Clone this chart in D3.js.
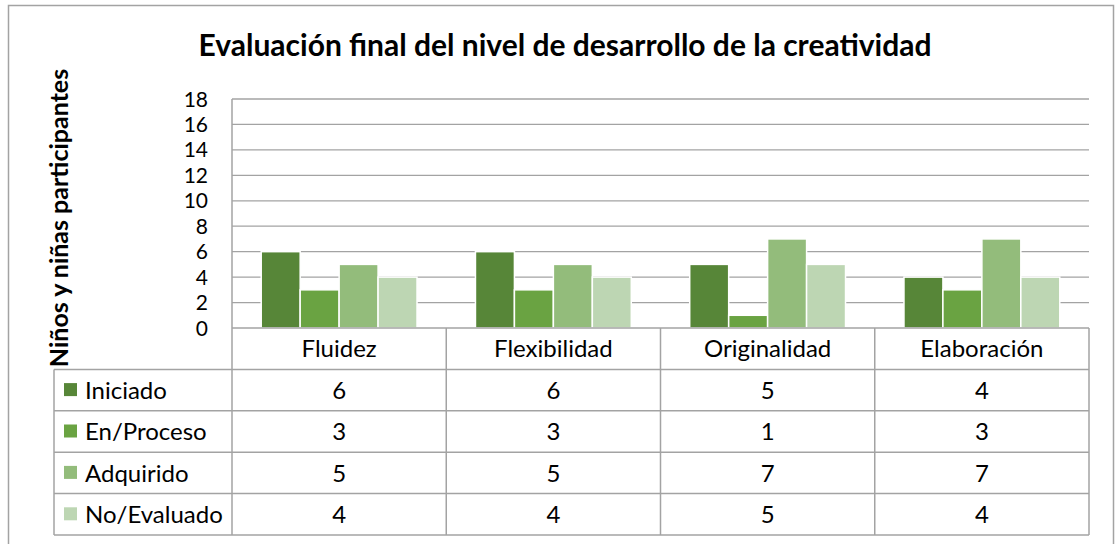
<!DOCTYPE html>
<html>
<head>
  <meta charset="utf-8">
  <title>Evaluación final</title>
  <script src="https://d3js.org/d3.v7.min.js"></script>
  <style>
    body { margin: 0; background: #fff; }
    text { font-family: Lato, "Open Sans", sans-serif; fill: #000; }
  </style>
</head>
<body>
  <svg width="1118" height="544"></svg>

  <script>
    // datos
    const categorias = ["Fluidez", "Flexibilidad", "Originalidad", "Elaboración"];
    const series = ["Iniciado", "En/Proceso", "Adquirido", "No/Evaluado"];
    const iniciado = [6, 6, 5, 4];
    const enProceso = [3, 3, 1, 3];
    const adquirido = [5, 5, 7, 7];
    const noEvaluado = [4, 4, 5, 4];
    const yTicks = [0, 2, 4, 6, 8, 10, 12, 14, 16, 18];
    const colores = ["#578638", "#6aa342", "#93bc7b", "#bdd6b3"];

    const valores = [iniciado, enProceso, adquirido, noEvaluado];

    const svg = d3.select("svg");
    const gris = "#a3a3a3";
    const fs = "24px";

    // borde exterior
    svg.append("rect")
      .attr("x", 8.5).attr("y", 5.5)
      .attr("width", 1105).attr("height", 545)
      .attr("fill", "none").attr("stroke", gris).attr("stroke-width", 1.5);

    // título
    svg.append("text")
      .attr("x", 565).attr("y", 56)
      .attr("text-anchor", "middle")
      .style("font-size", "30px").style("font-weight", "bold")
      .text("Evaluación final del nivel de desarrollo de la creatividad");

    const x = d3.scaleBand().domain(categorias).range([232, 1089]);
    const xSerie = d3.scaleBand().domain(series)
      .range([0, x.bandwidth()]).paddingInner(0).paddingOuter(0.75);
    const y = d3.scaleLinear().domain([0, 18]).range([328, 99]);

    // líneas de cuadrícula
    svg.append("g").selectAll("line")
      .data(yTicks.filter(d => d > 0))
      .join("line")
      .attr("x1", 232).attr("x2", 1089)
      .attr("y1", d => y(d)).attr("y2", d => y(d))
      .attr("stroke", gris).attr("stroke-width", 1.3);

    // etiquetas del eje y
    svg.append("g").selectAll("text")
      .data(yTicks)
      .join("text")
      .attr("x", 208).attr("y", d => y(d))
      .attr("dy", "0.36em")
      .attr("text-anchor", "end")
      .style("font-size", "21px")
      .text(d => d);

    // título del eje y
    svg.append("text")
      .attr("transform", "translate(68,218) rotate(-90)")
      .attr("text-anchor", "middle")
      .style("font-size", "25px").style("font-weight", "bold")
      .text("Niños y niñas participantes");

    // barras
    const datosBarras = [];
    series.forEach((s, i) => {
      categorias.forEach((c, j) => {
        datosBarras.push({ serie: s, cat: c, valor: valores[i][j], color: colores[i] });
      });
    });

    svg.append("g").selectAll("rect")
      .data(datosBarras)
      .join("rect")
      .attr("x", d => x(d.cat) + xSerie(d.serie))
      .attr("y", d => y(d.valor))
      .attr("width", xSerie.bandwidth())
      .attr("height", d => y(0) - y(d.valor))
      .attr("fill", d => d.color)
      .attr("stroke", "#fff").attr("stroke-width", 1.5);

    // tabla de datos
    const filas = d3.scaleBand().domain(["cab"].concat(series)).range([328, 535]);
    const tabla = svg.append("g")
      .attr("stroke", gris).attr("stroke-width", 1.5).attr("fill", "none");

    // líneas horizontales
    tabla.append("line")
      .attr("x1", 232).attr("x2", 1089).attr("y1", 328).attr("y2", 328);
    series.forEach(s => {
      tabla.append("line")
        .attr("x1", 54).attr("x2", 1089)
        .attr("y1", filas(s)).attr("y2", filas(s));
    });
    tabla.append("line")
      .attr("x1", 54).attr("x2", 1089).attr("y1", 535).attr("y2", 535);

    // líneas verticales
    tabla.append("line")
      .attr("x1", 232).attr("x2", 232).attr("y1", 99).attr("y2", 535);
    tabla.append("line")
      .attr("x1", 54).attr("x2", 54).attr("y1", filas(series[0])).attr("y2", 535);
    categorias.forEach(c => {
      tabla.append("line")
        .attr("x1", x(c) + x.bandwidth()).attr("x2", x(c) + x.bandwidth())
        .attr("y1", 328).attr("y2", 535);
    });

    // cabecera de categorías
    svg.append("g").selectAll("text")
      .data(categorias)
      .join("text")
      .attr("x", d => x(d) + x.bandwidth() / 2)
      .attr("y", filas("cab") + filas.bandwidth() / 2)
      .attr("dy", "0.36em")
      .attr("text-anchor", "middle")
      .style("font-size", fs)
      .text(d => d);

    // etiquetas de series con leyenda
    const leyenda = svg.append("g").selectAll("g")
      .data(series)
      .join("g")
      .attr("transform", d => `translate(0,${filas(d) + filas.bandwidth() / 2})`);
    leyenda.append("rect")
      .attr("x", 64).attr("y", -7)
      .attr("width", 13).attr("height", 13)
      .attr("fill", (d, i) => colores[i]);
    leyenda.append("text")
      .attr("x", 85).attr("dy", "0.36em")
      .style("font-size", fs)
      .text(d => d);

    // valores de la tabla
    series.forEach((s, i) => {
      svg.append("g").selectAll("text")
        .data(valores[i])
        .join("text")
        .attr("x", (d, j) => x(categorias[j]) + x.bandwidth() / 2)
        .attr("y", filas(s) + filas.bandwidth() / 2)
        .attr("dy", "0.36em")
        .attr("text-anchor", "middle")
        .style("font-size", fs)
        .text(d => d);
    });
  </script>
</body>
</html>
